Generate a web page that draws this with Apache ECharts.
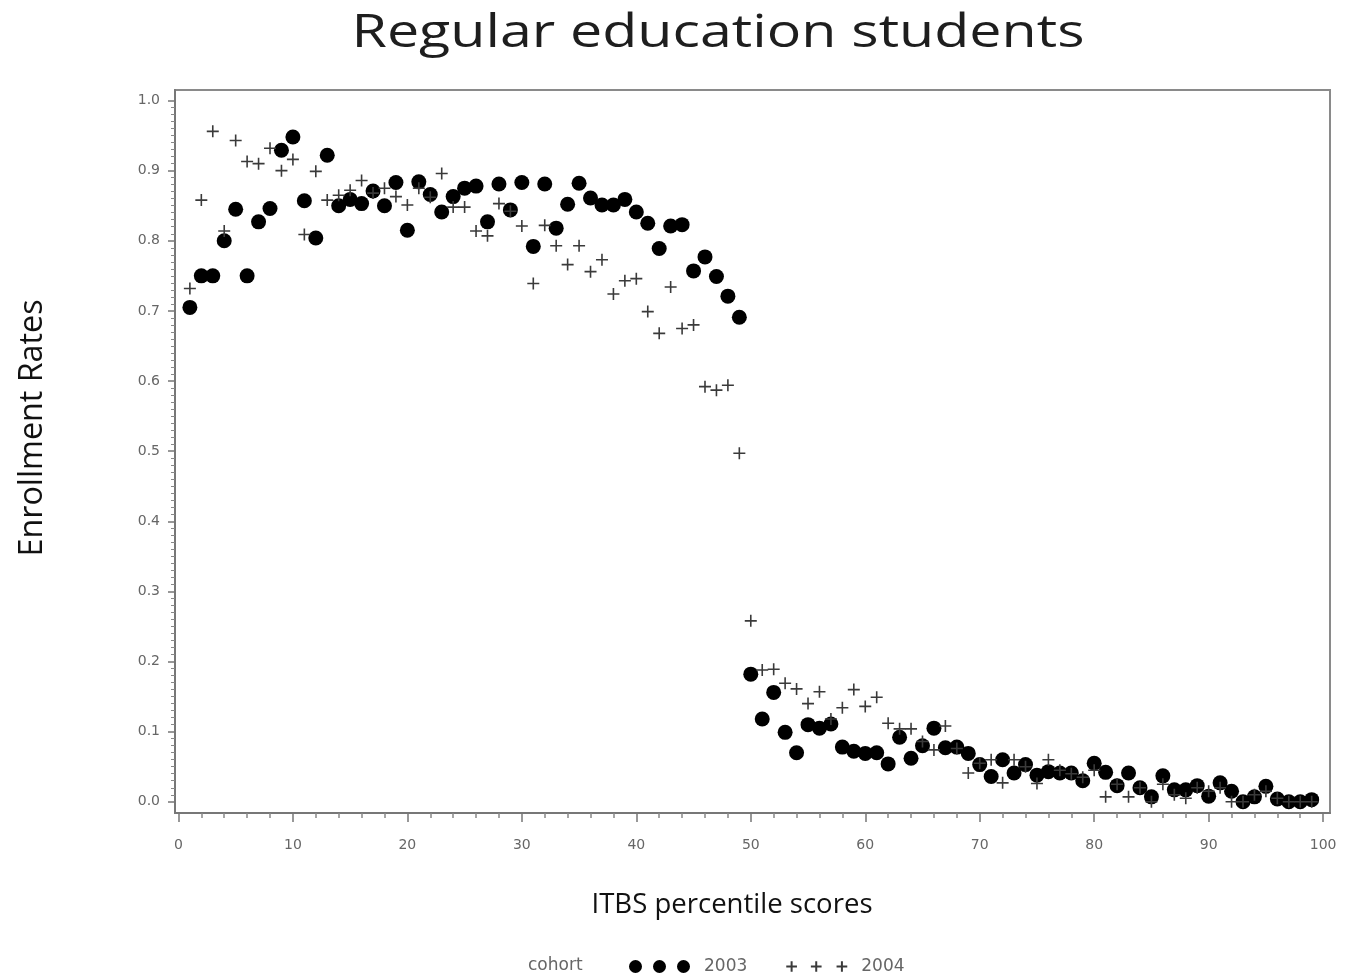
<!DOCTYPE html>
<html>
<head>
<meta charset="utf-8">
<script src="https://cdn.jsdelivr.net/npm/echarts@6/dist/echarts.min.js"></script>
<style>
  html, body { margin: 0; padding: 0; background: #fff; }
  #chart { width: 1345px; height: 977px; }
</style>
</head>
<body>
<div id="chart"></div>
<script>
// ITBS percentile scores (x) for each cohort
const percentiles = [
  1,2,3,4,5,6,7,8,9,10,11,12,13,14,15,16,17,18,19,20,
  21,22,23,24,25,26,27,28,29,30,31,32,33,34,35,36,37,38,39,40,
  41,42,43,44,45,46,47,48,49,50,51,52,53,54,55,56,57,58,59,60,
  61,62,63,64,65,66,67,68,69,70,71,72,73,74,75,76,77,78,79,80,
  81,82,83,84,85,86,87,88,89,90,91,92,93,94,95,96,97,98,99
];

// Enrollment rates, cohort 2003
const rates2003 = [
  0.705,0.750,0.750,0.800,0.845,0.750,0.827,0.846,0.929,0.948,
  0.857,0.804,0.922,0.850,0.859,0.853,0.871,0.850,0.883,0.815,
  0.884,0.866,0.841,0.863,0.875,0.878,0.827,0.881,0.844,0.883,
  0.792,0.881,0.818,0.852,0.882,0.861,0.851,0.851,0.859,0.841,
  0.825,0.789,0.821,0.823,0.757,0.777,0.749,0.721,0.691,0.182,
  0.118,0.156,0.099,0.070,0.110,0.105,0.111,0.078,0.072,0.069,
  0.070,0.054,0.092,0.062,0.080,0.105,0.077,0.078,0.069,0.053,
  0.036,0.060,0.041,0.053,0.038,0.043,0.041,0.041,0.030,0.055,
  0.042,0.023,0.041,0.020,0.007,0.037,0.017,0.017,0.023,0.008,
  0.027,0.015,0.000,0.007,0.022,0.004,0.000,0.000,0.003
];

// Enrollment rates, cohort 2004
const rates2004 = [
  0.732,0.858,0.956,0.814,0.943,0.913,0.910,0.932,0.900,0.916,
  0.809,0.899,0.858,0.865,0.872,0.886,0.868,0.875,0.863,0.851,
  0.875,0.862,0.896,0.848,0.848,0.814,0.807,0.853,0.842,0.821,
  0.739,0.822,0.793,0.766,0.793,0.756,0.773,0.724,0.743,0.746,
  0.699,0.668,0.734,0.675,0.680,0.592,0.587,0.594,0.497,0.258,
  0.188,0.189,0.169,0.161,0.140,0.157,0.118,0.134,0.160,0.136,
  0.149,0.112,0.104,0.104,0.086,0.074,0.108,0.076,0.041,0.055,
  0.060,0.027,0.060,0.050,0.026,0.060,0.045,0.040,0.035,0.045,
  0.007,0.025,0.007,0.020,0.000,0.025,0.010,0.005,0.020,0.015,
  0.020,0.000,0.000,0.010,0.015,0.005,0.000,0.000,0.000
];

// Axis tick values
const xMajorTicks = [0,10,20,30,40,50,60,70,80,90,100];
const yMajorTicks = [0,0.1,0.2,0.3,0.4,0.5,0.6,0.7,0.8,0.9,1.0];

const xMinorTicks = [];
for (let i = 0; i < xMajorTicks.length - 1; i++) {
  for (let k = 1; k < 5; k++) xMinorTicks.push(xMajorTicks[i] + k * 2);
}
const yMinorTicks = [];
for (let i = 0; i < yMajorTicks.length - 1; i++) {
  for (let k = 1; k < 10; k++) yMinorTicks.push(+(yMajorTicks[i] + k * 0.01).toFixed(2));
}

const toPoints = (vals) => percentiles.map((p, i) => [p, vals[i]]);

const CROSS = 'path://M0,5 L10,5 M5,0 L5,10';
const DOTS3 = 'path://M0,6.5a6.5,6.5 0 1,0 13,0a6.5,6.5 0 1,0 -13,0Z' +
              'M24,6.5a6.5,6.5 0 1,0 13,0a6.5,6.5 0 1,0 -13,0Z' +
              'M48,6.5a6.5,6.5 0 1,0 13,0a6.5,6.5 0 1,0 -13,0Z';
const CROSS3 = 'path://M0,5 L10,5 M5,0 L5,10 M23,5 L33,5 M28,0 L28,10 M47,5 L57,5 M52,0 L52,10';

const X_MIN = -0.3, X_MAX = 100.6;
const Y_MIN = -0.016, Y_MAX = 1.015;

// horizontal stretch so a label spans a given width
const measureCtx = document.createElement('canvas').getContext('2d');
function stretchFor(text, size, family, width) {
  measureCtx.font = size + 'px "' + family + '"';
  return width / measureCtx.measureText(text).width;
}

const tickFont = { fontFamily: 'DejaVu Sans', fontSize: 14, color: '#666' };
const noZero = { onZero: false };

const titleText = 'Regular education students';
const xTitle = 'ITBS percentile scores';
const yTitle = 'Enrollment Rates';

const chart = echarts.init(document.getElementById('chart'), null, { renderer: 'canvas' });

chart.setOption({
  backgroundColor: '#ffffff',
  animation: false,
  grid: {
    left: 175, top: 90, right: 15, bottom: 164,
    show: true, borderColor: '#8a8a8a', borderWidth: 2, backgroundColor: '#fff'
  },
  legend: {
    left: 624, top: 953,
    itemWidth: 61, itemHeight: 13, itemGap: 38,
    textStyle: { fontFamily: 'DejaVu Sans', fontSize: 17, color: '#666', padding: [0, 0, 0, 9] },
    data: [
      { name: '2003', icon: DOTS3 },
      { name: '2004', icon: CROSS3 }
    ]
  },
  graphic: [
    {
      type: 'text', x: 718, y: 34,
      scaleX: stretchFor(titleText, 46, 'Open Sans', 733),
      style: { text: titleText, fontFamily: 'Open Sans', fontSize: 46,
               fill: '#1e1e1e', align: 'center', verticalAlign: 'middle' }
    },
    {
      type: 'text', x: 528, y: 966,
      style: { text: 'cohort', fontFamily: 'DejaVu Sans', fontSize: 17, fill: '#666',
               verticalAlign: 'middle' }
    },
    {
      type: 'text', x: 732, y: 905,
      scaleX: stretchFor(xTitle, 28, 'Open Sans', 281),
      style: { text: xTitle, fontFamily: 'Open Sans', fontSize: 28,
               fill: '#111', align: 'center', verticalAlign: 'middle' }
    },
    {
      type: 'text', x: 33, y: 428, rotation: Math.PI / 2,
      scaleX: stretchFor(yTitle, 32, 'Open Sans', 257),
      style: { text: yTitle, fontFamily: 'Open Sans', fontSize: 32,
               fill: '#111', align: 'center', verticalAlign: 'middle' }
    }
  ],
  xAxis: [
    {
      type: 'value', min: X_MIN, max: X_MAX, position: 'bottom',
      axisLine: { show: true, ...noZero, lineStyle: { color: '#777', width: 2 } },
      axisTick: { show: true, customValues: xMajorTicks, length: 9, lineStyle: { color: '#777', width: 1.5 } },
      axisLabel: { show: true, customValues: xMajorTicks, margin: 25, ...tickFont },
      splitLine: { show: false }
    },
    {
      type: 'value', min: X_MIN, max: X_MAX, position: 'bottom',
      axisLine: { show: false, ...noZero },
      axisTick: { show: true, customValues: xMinorTicks, length: 5, lineStyle: { color: '#888', width: 1.5 } },
      axisLabel: { show: false },
      splitLine: { show: false }
    }
  ],
  yAxis: [
    {
      type: 'value', min: Y_MIN, max: Y_MAX, position: 'left',
      axisLine: { show: true, ...noZero, lineStyle: { color: '#777', width: 2 } },
      axisTick: { show: true, customValues: yMajorTicks, length: 7, lineStyle: { color: '#777', width: 1.5 } },
      axisLabel: {
        show: true, customValues: yMajorTicks, margin: 15, ...tickFont,
        formatter: (v) => v.toFixed(1)
      },
      splitLine: { show: false }
    },
    {
      type: 'value', min: Y_MIN, max: Y_MAX, position: 'left',
      axisLine: { show: false, ...noZero },
      axisTick: { show: true, customValues: yMinorTicks, length: 4, lineStyle: { color: '#888', width: 1 } },
      axisLabel: { show: false },
      splitLine: { show: false }
    }
  ],
  series: [
    {
      name: '2003', type: 'scatter', xAxisIndex: 0, yAxisIndex: 0,
      symbol: 'circle', symbolSize: 15,
      itemStyle: { color: '#000', opacity: 1 },
      data: toPoints(rates2003),
      z: 2
    },
    {
      name: '2004', type: 'scatter', xAxisIndex: 0, yAxisIndex: 0,
      symbol: CROSS, symbolSize: 12,
      itemStyle: { color: 'rgba(0,0,0,0)', borderColor: '#3a3a3a', borderWidth: 1.6, opacity: 1 },
      data: toPoints(rates2004),
      z: 3
    }
  ]
});
</script>
</body>
</html>
